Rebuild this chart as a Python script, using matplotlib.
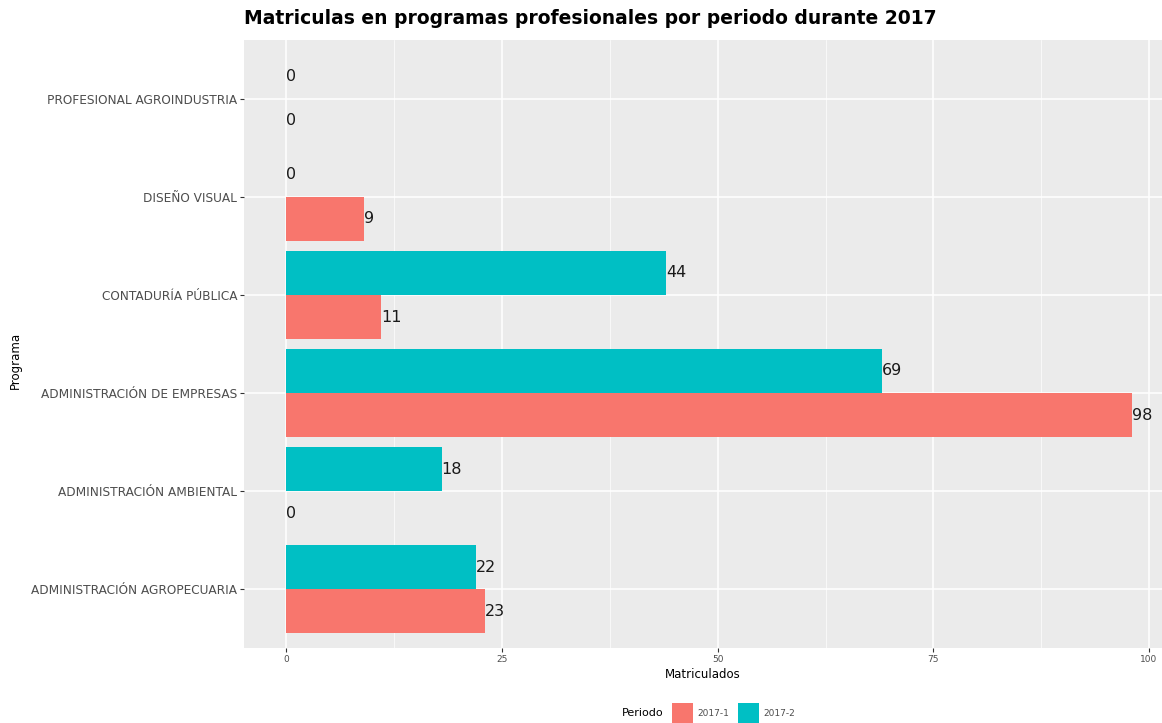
import matplotlib.pyplot as plt
import numpy as np
from matplotlib.patches import Rectangle

# Data
programas = ['ADMINISTRACIÓN AGROPECUARIA', 'ADMINISTRACIÓN AMBIENTAL',
             'ADMINISTRACIÓN DE EMPRESAS', 'CONTADURÍA PÚBLICA',
             'DISEÑO VISUAL', 'PROFESIONAL AGROINDUSTRIA']
periodo_1 = [23, 0, 98, 11, 9, 0]   # 2017-1
periodo_2 = [22, 18, 69, 44, 0, 0]  # 2017-2
periodos = ['2017-1', '2017-2']
colores = ['#F8766D', '#00BFC4']
x_ticks = [0, 25, 50, 75, 100]

W, H = 1162, 723
fig = plt.figure(figsize=(W / 100, H / 100), dpi=100)
ax = fig.add_axes([244 / W, 1 - 648 / H, 1 - 244 / W, 608 / H])
ax.set_facecolor('#EBEBEB')

pos = np.arange(1, len(programas) + 1)
h = 0.45
for vals, off, col in [(periodo_1, -h / 2, colores[0]), (periodo_2, h / 2, colores[1])]:
    ax.barh(pos + off, vals, height=h, color=col, zorder=3)
    for p, v in zip(pos, vals):
        ax.text(v, p + off, str(v), ha='left', va='center', fontsize=11.5,
                color='#1a1a1a', zorder=4)

ax.set_xlim(-4.9, 101.5)
ax.set_ylim(0.4, 6.6)
ax.set_xticks(x_ticks)
ax.set_xticks([12.5, 37.5, 62.5, 87.5], minor=True)
ax.set_yticks(pos)
ax.set_yticklabels(programas)
ax.grid(which='major', color='white', linewidth=1.1, zorder=0)
ax.grid(which='minor', axis='x', color='white', linewidth=0.5, zorder=0)
for s in ax.spines.values():
    s.set_visible(False)
ax.tick_params(which='major', length=3, color='#333333', labelsize=6.5,
               labelcolor='#4D4D4D', pad=2)
ax.tick_params(axis='y', labelsize=8.7)
ax.tick_params(which='minor', length=0)

ax.set_xlabel('Matriculados', fontsize=8.5, color='black', labelpad=3)
fig.text(15 / W, 1 - 360 / H, 'Programa', rotation=90, fontsize=8.5,
         ha='center', va='center')
fig.text(244 / W, 1 - 18 / H, 'Matriculas en programas profesionales por periodo durante 2017',
         fontsize=13.5, fontweight='bold', ha='left', va='center')

# legend at the bottom, ggplot style
ly = 713
fig.text(622 / W, 1 - ly / H, 'Periodo', fontsize=8, ha='left', va='center')
for x0, col, lab in [(672, colores[0], periodos[0]), (738, colores[1], periodos[1])]:
    fig.add_artist(Rectangle((x0 / W, 1 - (ly + 10) / H), 21 / W, 20 / H,
                             transform=fig.transFigure, facecolor=col, edgecolor='none'))
    fig.text((x0 + 25) / W, 1 - ly / H, lab, fontsize=6.5, color='#4D4D4D',
             ha='left', va='center')

plt.savefig('out.png', dpi=100)
